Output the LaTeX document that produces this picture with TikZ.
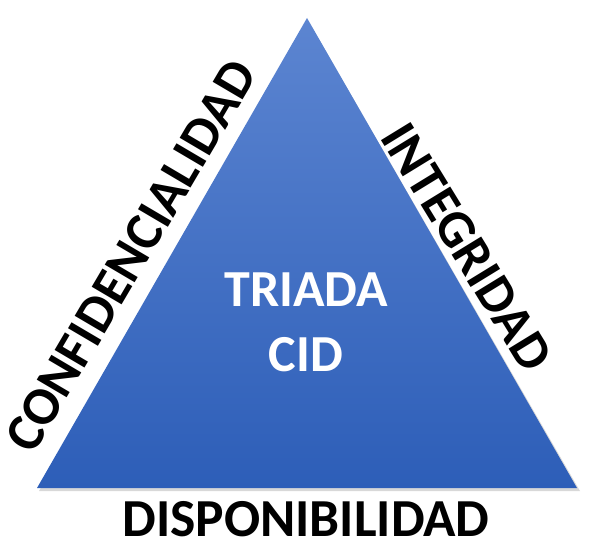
\documentclass[tikz,border=0pt]{standalone}
\usepackage{fontspec}
\setmainfont{Carlito}
\usetikzlibrary{shadows}
\definecolor{topblue}{HTML}{5C85D1}
\definecolor{botblue}{HTML}{2D5EB8}
\tikzset{
  sidelabel/.style={font=\bfseries\fontsize{53.5}{54}\selectfont, text=black, inner sep=0pt},
  innerlabel/.style={font=\bfseries\fontsize{52}{65}\selectfont, text=white, align=center, inner sep=0pt},
}
\begin{document}
\begin{tikzpicture}[x=1pt,y=-1pt]
\useasboundingbox (0,0) rectangle (591,551);
\coordinate (apex) at (307,18);
\coordinate (bl) at (37,488);
\coordinate (br) at (577,488);
\fill[gray!60, opacity=0.5] (309,22) -- (580,491) -- (39,491) -- cycle;
\shade[top color=topblue, bottom color=botblue] (apex) -- (br) -- (bl) -- cycle;
\node[innerlabel] (cid) at (306,322) {TRIADA\\CID};
\node[sidelabel, rotate=59.5] (conf) at (131,256) {CONFIDENCIALIDAD};
\node[sidelabel, rotate=-58.5] (integ) at (467,247) {INTEGRIDAD};
\node[sidelabel] (disp) at (306,519) {DISPONIBILIDAD};
\end{tikzpicture}
\end{document}
